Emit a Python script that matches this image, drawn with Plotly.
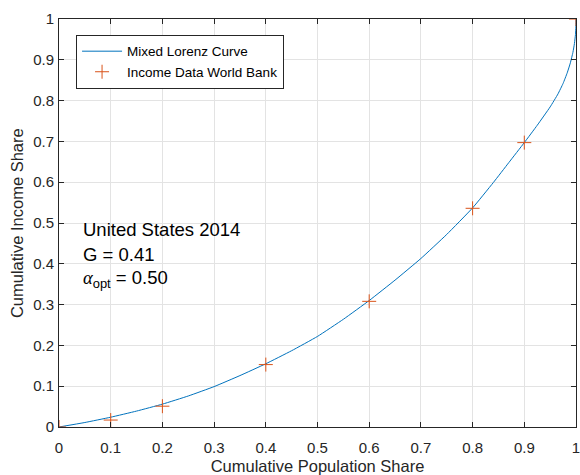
import plotly.graph_objects as go

# Mixed Lorenz curve
curve_x = [0, 0.05, 0.1, 0.15, 0.2, 0.25, 0.3, 0.35, 0.4, 0.45, 0.5, 0.55, 0.6, 0.65, 0.7, 0.75,
           0.8, 0.84, 0.87, 0.9, 0.925, 0.95, 0.965, 0.975, 0.983, 0.989, 0.994, 0.997, 0.999, 0.9997, 1.0]
curve_y = [0, 0.011, 0.024, 0.039, 0.056, 0.076, 0.099, 0.126, 0.155, 0.187, 0.222, 0.264, 0.310, 0.360, 0.413, 0.472,
           0.537, 0.599, 0.648, 0.697, 0.7395, 0.7845, 0.816, 0.842, 0.868, 0.892, 0.918, 0.940, 0.962, 0.980, 1.0]

# Income data World Bank (US 2014)
data_x = [0, 0.1, 0.2, 0.4, 0.6, 0.8, 0.9, 1.0]
data_y = [0, 0.017, 0.051, 0.153, 0.308, 0.536, 0.697, 1.0]

tick_vals = [0, 0.1, 0.2, 0.3, 0.4, 0.5, 0.6, 0.7, 0.8, 0.9, 1]
tick_text = ["0", "0.1", "0.2", "0.3", "0.4", "0.5", "0.6", "0.7", "0.8", "0.9", "1"]

x_title = "Cumulative Population Share"
y_title = "Cumulative Income Share"

blue = "#0072BD"
orange = "#D95319"
axcol = "#262626"
font_family = "Liberation Sans, Arial, Helvetica, sans-serif"

fig = go.Figure()
fig.add_trace(go.Scatter(x=curve_x, y=curve_y, mode="lines", name="Mixed Lorenz Curve",
                         line=dict(color=blue, width=1, shape="spline", smoothing=0.4)))
fig.add_trace(go.Scatter(x=data_x, y=data_y, mode="markers", name="Income Data World Bank",
                         marker=dict(symbol="cross-thin", size=10, color=orange,
                                     line=dict(color=orange, width=1))))

axis_common = dict(range=[0, 1], tickvals=tick_vals, ticktext=tick_text,
                   ticks="inside", ticklen=5, tickcolor=axcol, tickwidth=1,
                   showline=True, linecolor=axcol, linewidth=1, mirror="ticks",
                   showgrid=True, gridcolor="#e3e3e3", gridwidth=1, zeroline=False,
                   ticklabeloverflow="allow", automargin=False,
                   tickfont=dict(family=font_family, size=15, color=axcol))

fig.update_xaxes(**axis_common, ticklabelstandoff=7,
                 title=dict(text=x_title,
                            font=dict(family=font_family, size=16.5, color=axcol)))
fig.update_yaxes(**axis_common, ticklabelstandoff=1)

fig.add_annotation(x=-0.081, y=0.5, xref="paper", yref="paper", xanchor="center", yanchor="middle",
                   text=y_title, textangle=-90, showarrow=False,
                   font=dict(family=font_family, size=16.5, color=axcol))

fig.add_annotation(x=0.043, y=0.484, xref="x", yref="y", xanchor="left", yanchor="middle",
                   text="United States 2014", showarrow=False,
                   font=dict(family=font_family, size=18.5, color="black"))
fig.add_annotation(x=0.043, y=0.423, xref="x", yref="y", xanchor="left", yanchor="middle",
                   text="G = 0.41", showarrow=False,
                   font=dict(family=font_family, size=18.5, color="black"))
fig.add_annotation(x=0.043, y=0.362, xref="x", yref="y", xanchor="left", yanchor="middle",
                   text="<i><span style='font-family:Liberation Serif'>α</span></i><sub>opt</sub> = 0.50",
                   showarrow=False,
                   font=dict(family=font_family, size=18.5, color="black"))

fig.update_layout(
    width=580, height=475,
    margin=dict(l=59, r=4, t=19, b=48),
    paper_bgcolor="white", plot_bgcolor="white",
    showlegend=True,
    legend=dict(x=0.033, y=0.961, xanchor="left", yanchor="top",
                bgcolor="white", bordercolor=axcol, borderwidth=1,
                font=dict(family=font_family, size=13.5, color="black"),
                tracegroupgap=0, itemwidth=40),
)

fig.write_html("out.html")
